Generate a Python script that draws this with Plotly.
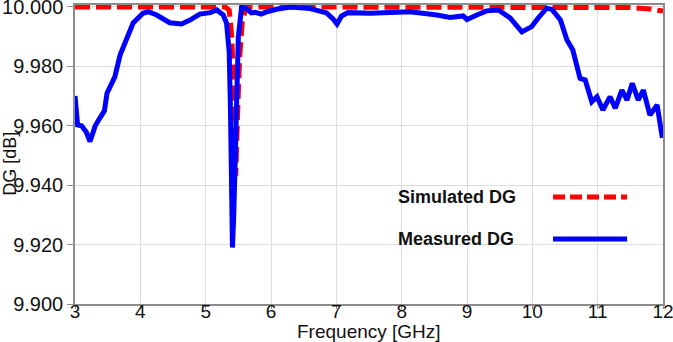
import plotly.graph_objects as go

# Measured DG (blue)
meas_freq = [3.00, 3.04, 3.10, 3.17, 3.23, 3.31, 3.38, 3.45, 3.49, 3.61, 3.69, 3.78, 3.89,
             4.04, 4.12, 4.25, 4.45, 4.63, 4.76, 4.91, 5.07, 5.17, 5.27, 5.32, 5.36, 5.38,
             5.40, 5.41, 5.43, 5.46, 5.50, 5.55, 5.62, 5.70, 5.76, 5.85, 5.95, 6.10, 6.30,
             6.60, 6.85, 6.95, 7.01, 7.08, 7.18, 7.52, 7.80, 8.13, 8.54, 8.74, 8.94, 9.00,
             9.15, 9.30, 9.48, 9.66, 9.84, 9.99, 10.09, 10.22, 10.30, 10.43, 10.53, 10.62,
             10.73, 10.81, 10.91, 10.99, 11.08, 11.19, 11.27, 11.37, 11.45, 11.53, 11.62,
             11.70, 11.80, 11.91, 11.99]
meas_dg = [9.9700, 9.9603, 9.9600, 9.9580, 9.9547, 9.9600, 9.9626, 9.9650, 9.9710, 9.9765,
           9.9838, 9.9883, 9.9946, 9.9979, 9.9984, 9.9973, 9.9947, 9.9943, 9.9956, 9.9976,
           9.9981, 9.9990, 9.9973, 9.9945, 9.9850, 9.9650, 9.9350, 9.9190, 9.9300, 9.9650,
           9.9900, 10.0000, 9.9995, 9.9980, 9.9982, 9.9976, 9.9985, 9.9993, 10.0000, 9.9995,
           9.9980, 9.9960, 9.9943, 9.9970, 9.9981, 9.9979, 9.9982, 9.9984, 9.9973, 9.9965,
           9.9970, 9.9958, 9.9973, 9.9987, 9.9990, 9.9963, 9.9916, 9.9934, 9.9963, 9.9996,
           9.9992, 9.9956, 9.9889, 9.9855, 9.9760, 9.9754, 9.9681, 9.9698, 9.9653, 9.9698,
           9.9659, 9.9720, 9.9687, 9.9743, 9.9687, 9.9720, 9.9636, 9.9670, 9.9559]

# Simulated DG (red dashed)
sim_freq = [3.0, 4.0, 5.0, 5.30, 5.36, 5.40, 5.43, 5.46, 5.49, 5.52, 5.56, 5.62,
            6.0, 7.0, 8.0, 9.0, 10.0, 11.0, 11.5, 11.8, 12.0]
sim_dg = [10.0, 10.0, 10.0, 10.0, 9.999, 9.990, 9.970, 9.943, 9.965, 9.983, 9.995, 10.0,
          10.0, 10.0, 10.0, 10.0, 10.0, 10.0, 9.9998, 9.9993, 9.9986]

y_ticks = [9.90, 9.92, 9.94, 9.96, 9.98, 10.00]
x_ticks = [3, 4, 5, 6, 7, 8, 9, 10, 11, 12]
x_range = [3, 12]

legend_names = ["Simulated DG", "Measured DG"]
colors = ["#ff0000", "#0000ff"]

FONT = "Liberation Sans, Arial, sans-serif"

fig = go.Figure()
fig.add_trace(go.Scatter(x=sim_freq, y=sim_dg, mode="lines", name=legend_names[0],
                         line=dict(color=colors[0], width=5, dash="15px,6px")))
fig.add_trace(go.Scatter(x=meas_freq, y=meas_dg, mode="lines", name=legend_names[1],
                         xaxis="x2", yaxis="y",
                         line=dict(color=colors[1], width=5)))

axis_common = dict(showgrid=True, gridcolor="#dddddd", gridwidth=1,
                   showline=True, linecolor="#8c8c8c", linewidth=1.5, mirror=True,
                   tickcolor="#8c8c8c", automargin=False,
                   ticklabeloverflow="allow",
                   zeroline=False)

fig.update_layout(
    xaxis=dict(range=x_range, tickvals=x_ticks, ticks="outside", ticklen=3,
               showticklabels=False, **axis_common),
    # tick-label axis, nudged up slightly so labels sit close to the frame
    xaxis2=dict(range=x_range, tickvals=x_ticks, overlaying="x", anchor="free",
                position=0.02, side="bottom", showgrid=False, showline=False,
                zeroline=False, ticks="", automargin=False, ticklabeloverflow="allow",
                tickfont=dict(family=FONT, size=19, color="#111111")),
    yaxis=dict(range=[9.9, 10.00067], tickvals=y_ticks, ticks="outside", ticklen=6,
               ticktext=[f"{v:.3f}" for v in y_ticks],
               tickfont=dict(family=FONT, size=20, color="#111111"), **axis_common),
    width=673, height=342,
    margin=dict(l=75, r=10, t=5, b=38),
    plot_bgcolor="white", paper_bgcolor="white",
    showlegend=False,
    font=dict(family=FONT, color="#111111"),
)

# axis titles
fig.add_annotation(text="DG [dB]", xref="paper", yref="paper", x=-0.11, y=0.47,
                   xanchor="center", yanchor="middle", textangle=-90, showarrow=False,
                   font=dict(family=FONT, size=18, color="#111111"))
fig.add_annotation(text="Frequency [GHz]", xref="paper", yref="paper", x=0.5, y=-0.092,
                   xanchor="center", yanchor="middle", showarrow=False,
                   font=dict(family=FONT, size=19, color="#111111"))

# custom legend (text left, sample right)
leg_y = [0.358, 0.217]
dashes = ["12px,5px", "solid"]
for name, col, yy, dsh in zip(legend_names, colors, leg_y, dashes):
    fig.add_annotation(text=f"<b>{name}</b>", xref="paper", yref="paper", x=0.546, y=yy,
                       xanchor="left", yanchor="middle", showarrow=False,
                       font=dict(family=FONT, size=18, color="#111111"))
    fig.add_shape(type="line", xref="paper", yref="paper", x0=0.813, x1=0.939, y0=yy, y1=yy,
                  line=dict(color=col, width=5, dash=dsh))

fig.write_html("out.html")
